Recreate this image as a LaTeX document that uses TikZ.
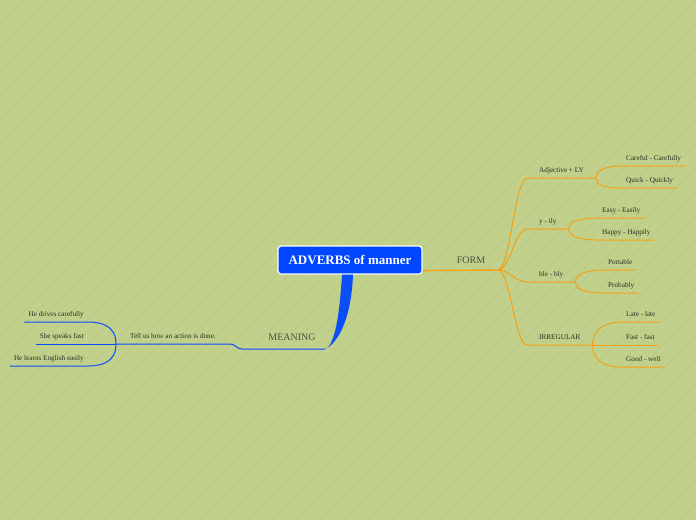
\documentclass[tikz,border=0pt]{standalone}
\usepackage{fontspec}
\setmainfont{Liberation Serif}
\usetikzlibrary{positioning}
\definecolor{paper}{RGB}{193,208,139}
\definecolor{stripecol}{RGB}{187,203,134}
\definecolor{formorange}{RGB}{247,160,20}
\definecolor{meanblue}{RGB}{10,78,250}
\definecolor{rootblue}{RGB}{0,70,255}
\definecolor{ink}{RGB}{45,45,35}
\definecolor{mainink}{RGB}{80,80,70}
\tikzset{rootbox/.style={draw=white,line width=1.2pt,rounded corners=3pt,fill=rootblue,text=white,font=\fontsize{13}{15}\selectfont\bfseries,minimum width=144pt,minimum height=28pt,inner sep=0pt},mainlbl/.style={text=mainink,font=\fontsize{10}{12}\selectfont,inner sep=0pt,anchor=base},sub/.style={text=ink,font=\fontsize{7.2}{8}\selectfont,inner xsep=12pt,inner ysep=3.5pt,text depth=1.5pt,anchor=south west},leaf/.style={sub,inner xsep=4pt},orangeline/.style={draw=formorange,line width=1pt},blueline/.style={draw=meanblue,line width=1pt},stripe/.style={draw=stripecol,line width=0.8pt}}

\begin{document}
\begin{tikzpicture}[x=1pt,y=-1pt]
\fill[paper] (0,0) rectangle (696,520);
\begin{scope}
\clip (0,0) rectangle (696,520);
\foreach \s in {-520,-508,...,700} \draw[stripe] (\s,520) -- ++(520,-520);
\end{scope}
\useasboundingbox (0,0) rectangle (696,520);

\node[rootbox] (adverbs) at (350,260) {ADVERBS of manner};
\node[mainlbl] (form) at (471,263) {FORM};
\node[mainlbl] (meaning) at (292,340) {MEANING};
\coordinate (formj) at (498,270);
\coordinate (mroot) at (325,349);
\coordinate (mj) at (242,349);
\coordinate (tellj) at (116,344);

\node[sub] (adj) at (527,178) {Adjective + LY};
\node[sub] (yily) at (527,229) {y - ily};
\node[sub] (bly) at (527,282) {ble - bly};
\node[sub] (irreg) at (527,345) {IRREGULAR};

\node[leaf] (careful) at (622,166) {Careful - Carefully};
\node[leaf] (quick) at (622,188) {Quick - Quickly};
\node[leaf] (easy) at (598,218) {Easy - Easily};
\node[leaf] (happy) at (598,240) {Happy - Happily};
\node[leaf] (portable) at (604,270) {Portable};
\node[leaf] (probably) at (604,293) {Probably};
\node[leaf] (late) at (622,322) {Late - late};
\node[leaf] (fast) at (622,345) {Fast - fast};
\node[leaf] (good) at (622,367) {Good - well};

\node[sub,inner xsep=14pt,anchor=south east] (tell) at (230,344) {Tell us how an action is done.};
\node[leaf,anchor=south east] (drives) at (88,322) {He drives carefully};
\node[leaf,anchor=south east] (speaks) at (88,344) {She speaks fast};
\node[leaf,anchor=south east] (learns) at (88,366) {He learns English easily};

\draw[orangeline,line width=1.4pt] ([yshift=4pt]adverbs.south east) -- (formj);
\foreach \n in {adj,yily,bly,irreg}
  \draw[orangeline] (formj) .. controls +(12,0) and +(-12,0) .. (\n.south west) -- (\n.south east);
\foreach \p/\c/\d in {adj/careful/-9,adj/quick/9,yily/easy/-9,yily/happy/9,bly/portable/-9,bly/probably/9,irreg/late/-18,irreg/good/18}
  \draw[orangeline] (\p.south east) .. controls +(0,\d) and +(-14,0) .. (\c.south west) -- (\c.south east);
\draw[orangeline] (irreg.south east) -- (fast.south east);

\fill[meanblue] ([xshift=-8pt]adverbs.south) .. controls +(-3,50) and +(8,-2) .. (mroot) .. controls +(10,-4) and +(-2,50) .. ([xshift=3pt]adverbs.south) -- cycle;
\draw[blueline] (mroot) -- (mj) .. controls +(-6,0) and +(6,0) .. (tell.south east) -- (tellj);
\draw[blueline] (tellj) .. controls +(0,-18) and +(14,0) .. (drives.south east) -- (drives.south west);
\draw[blueline] (tellj) -- (speaks.south west);
\draw[blueline] (tellj) .. controls +(0,18) and +(14,0) .. (learns.south east) -- (learns.south west);
\end{tikzpicture}
\end{document}
